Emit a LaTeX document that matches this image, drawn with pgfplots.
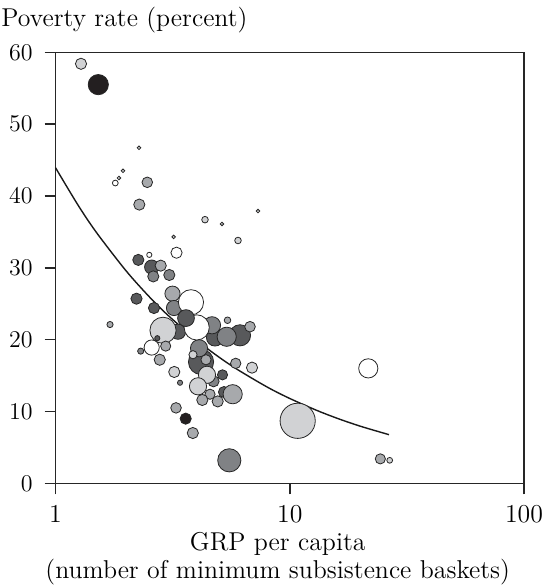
\documentclass[border=0pt]{standalone}
\usepackage{pgfplots}
\pgfplotsset{compat=1.18}
\usepackage{pgfplotstable}

\definecolor{shade0}{RGB}{255,255,255}
\definecolor{shade1}{RGB}{209,210,212}
\definecolor{shade2}{RGB}{167,169,172}
\definecolor{shade3}{RGB}{128,130,133}
\definecolor{shade4}{RGB}{88,89,91}
\definecolor{shade5}{RGB}{35,31,32}

\pgfplotstableread{
x y r c
1.285 58.4 2.8 b
1.523 55.5 5.05 f
2.272 46.7 0.9 b
1.942 43.5 0.9 b
1.866 42.5 0.9 b
1.800 41.8 1.45 a
2.465 41.9 2.65 c
2.279 38.8 2.8 c
4.347 36.7 1.65 b
5.137 36.1 0.9 b
7.318 37.9 0.9 b
3.195 34.3 0.9 b
6.013 33.8 1.65 b
3.286 32.1 2.8 a
2.514 31.8 1.3 a
2.257 31.1 2.8 e
2.574 30.1 3.55 e
2.813 30.3 2.8 c
2.615 28.8 2.8 d
3.061 29.0 2.8 d
2.217 25.7 2.8 e
2.633 24.4 2.8 e
1.709 22.1 1.55 c
4.181 16.9 6.3 e
3.334 21.1 3.8 e
4.100 18.8 4.3 d
4.727 14.2 2.8 d
5.240 12.7 2.8 e
4.797 20.3 4.3 e
6.132 20.6 5.3 e
4.658 22.0 4.3 d
5.381 20.4 4.8 d
3.158 26.4 3.8 c
3.205 24.4 3.8 d
3.788 25.2 6.3 a
4.006 21.7 6.3 a
3.607 23.0 4.2 e
2.877 21.3 6.55 b
5.424 22.7 1.65 c
6.767 21.8 2.65 c
2.574 18.9 3.8 a
2.954 19.1 2.55 c
2.720 20.2 1.3 e
2.311 18.4 1.55 d
2.786 17.2 2.8 c
5.879 16.7 2.6 c
6.902 16.1 2.8 b
4.390 17.2 2.55 c
3.864 17.9 2.05 b
3.214 15.5 2.8 b
4.433 15.1 4.3 b
5.163 15.1 2.55 e
3.401 14.0 1.3 d
4.058 13.5 4.3 b
4.567 12.4 2.55 c
5.707 12.4 4.8 c
4.234 11.6 2.8 c
4.925 11.4 2.8 c
3.270 10.5 2.65 c
3.596 9.0 2.8 f
3.857 7.0 2.8 c
5.520 3.2 5.8 d
10.81 8.7 8.8 b
21.64 16.0 4.8 a
24.36 3.4 2.55 c
26.71 3.2 1.45 b
}\bubbles

\pgfplotstableread{
x y
1 43.94
1.25 38.69
1.5 34.86
2 29.59
2.5 26.05
3 23.48
4 19.92
5 17.54
6 15.81
8 13.41
10 11.81
13 10.17
16 9.03
20 7.95
26.53 6.77
}\fitcurve

\begin{document}
\fontsize{12.9}{15}\selectfont
\begin{tikzpicture}
\begin{axis}[
  name=ax,
  scale only axis,
  width=234.25pt, height=215.5pt,
  xmode=log, xmin=1, xmax=100, ymin=0, ymax=60,
  xtick={1,10,100}, xticklabels={1,10,100},
  xminorticks=false,
  ytick={0,10,20,30,40,50,60},
  tick align=outside, tick pos=left,
  major tick length=5.5pt,
  axis line style={line width=0.75pt, black!85},
  every tick/.style={line width=0.75pt, black!85},
  tick label style={font=\fontsize{12.9}{15}\selectfont},
  yticklabel style={xshift=-1.5pt},
  xticklabel style={yshift=-1pt},
  clip=false,
]
\addplot[scatter, only marks, mark=*,
  scatter src=explicit symbolic,
  scatter/classes={
    a={draw=black!85, fill=shade0},
    b={draw=black!85, fill=shade1},
    c={draw=black!85, fill=shade2},
    d={draw=black!85, fill=shade3},
    e={draw=black!85, fill=shade4},
    f={draw=black!85, fill=shade5}},
  visualization depends on={\thisrow{r} \as \rad},
  scatter/@pre marker code/.append style={/tikz/mark size=\rad, /tikz/line width=0.75pt},
] table[x=x, y=y, meta=c] {\bubbles};
\addplot[smooth, no marks, line width=0.7pt, black!90] table[x=x, y=y] {\fitcurve};
\node[anchor=base west, inner sep=0pt, xshift=-27.2pt, yshift=12.8pt, font=\fontsize{12.9}{15}\selectfont] at (rel axis cs:0,1) {Poverty rate (percent)};
\node[anchor=base, inner sep=0pt, xshift=-6pt, yshift=-33.6pt, font=\fontsize{12.9}{15}\selectfont] at (rel axis cs:0.5,0) {GRP per capita};
\node[anchor=base, inner sep=0pt, xshift=-6pt, yshift=-47.8pt, font=\fontsize{12.9}{15}\selectfont] at (rel axis cs:0.5,0) {(number of minimum subsistence baskets)};
\end{axis}
\pgfresetboundingbox
\path[use as bounding box] ([xshift=-27.75pt, yshift=26.15pt]ax.north west) rectangle ([xshift=9.5pt, yshift=-52.35pt]ax.south east);
\end{tikzpicture}
\end{document}
